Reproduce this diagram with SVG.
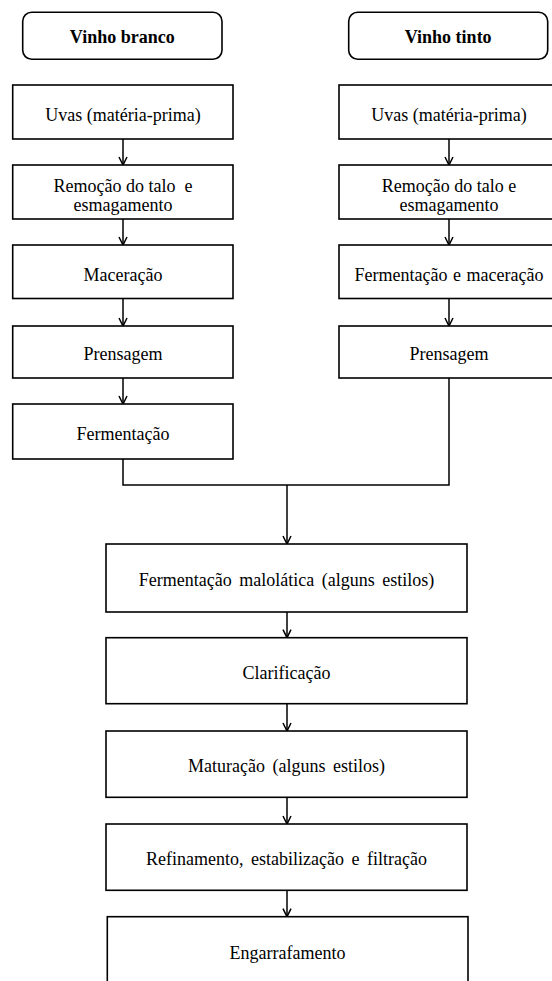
<svg xmlns="http://www.w3.org/2000/svg" width="552" height="981" viewBox="0 0 552 981">
<style>
.box{fill:#fff;stroke:#000;stroke-width:1.6}
.hdr{fill:#fff;stroke:#000;stroke-width:1.6}
.t{font-family:'Liberation Serif',Tinos,'Times New Roman','Noto Serif','DejaVu Serif',serif;font-size:18px;fill:#000;text-anchor:middle}
.b{font-weight:bold}
.w{word-spacing:3px}
.ln{fill:none;stroke:#000;stroke-width:1.5}
</style>
<rect width="552" height="981" fill="#fff"/>
<g id="connectors">
<line class="ln" x1="123" y1="139" x2="123" y2="165"/>
<line class="ln" x1="123" y1="219" x2="123" y2="245"/>
<line class="ln" x1="123" y1="298.5" x2="123" y2="326"/>
<line class="ln" x1="123" y1="378" x2="123" y2="404"/>
<line class="ln" x1="449" y1="139" x2="449" y2="165"/>
<line class="ln" x1="449" y1="219" x2="449" y2="245"/>
<line class="ln" x1="449" y1="298.5" x2="449" y2="326"/>
<polyline class="ln" points="123,459 123,485 449,485 449,378"/>
<line class="ln" x1="287" y1="485" x2="287" y2="544"/>
<line class="ln" x1="287" y1="612" x2="287" y2="637.7"/>
<line class="ln" x1="287" y1="703.7" x2="287" y2="731"/>
<line class="ln" x1="287" y1="797.3" x2="287" y2="824"/>
<line class="ln" x1="287" y1="890.3" x2="287" y2="916.7"/>
<g fill="none" stroke="#000" stroke-width="1.5">
<polyline points="119,157 123,165 127,157"/>
<polyline points="119,237 123,245 127,237"/>
<polyline points="119,318 123,326 127,318"/>
<polyline points="119,396 123,404 127,396"/>
<polyline points="445,157 449,165 453,157"/>
<polyline points="445,237 449,245 453,237"/>
<polyline points="445,318 449,326 453,318"/>
<polyline points="283,536 287,544 291,536"/>
<polyline points="283,629.7 287,637.7 291,629.7"/>
<polyline points="283,723 287,731 291,723"/>
<polyline points="283,816 287,824 291,816"/>
<polyline points="283,908.7 287,916.7 291,908.7"/>
</g>
</g>
<g id="hdr-branco"><rect class="hdr" x="22.7" y="12.3" width="199.3" height="47" rx="9"/><text class="t b" x="122.3" y="43">Vinho branco</text></g>
<g id="hdr-tinto"><rect class="hdr" x="348.7" y="12.3" width="199" height="47" rx="9"/><text class="t b" x="448.2" y="43">Vinho tinto</text></g>
<g id="b-uvas"><rect class="box" x="12.7" y="85" width="220.3" height="54"/><text class="t" x="123" y="120.5">Uvas (matéria-prima)</text></g>
<g id="b-remocao"><rect class="box" x="12.7" y="165" width="220.3" height="54"/><text class="t" x="123" y="191.5" xml:space="preserve">Remoção do talo  e</text><text class="t" x="123" y="210.5">esmagamento</text></g>
<g id="b-maceracao"><rect class="box" x="12.7" y="245" width="220.3" height="53.5"/><text class="t" x="123" y="280.5">Maceração</text></g>
<g id="b-prensagem"><rect class="box" x="12.7" y="326" width="220.3" height="52"/><text class="t" x="123" y="360">Prensagem</text></g>
<g id="b-fermentacao"><rect class="box" x="12.7" y="404" width="220.3" height="55"/><text class="t" x="123" y="439.5">Fermentação</text></g>
<g id="t-uvas"><rect class="box" x="339" y="85" width="220" height="54"/><text class="t" x="449" y="120.5">Uvas (matéria-prima)</text></g>
<g id="t-remocao"><rect class="box" x="339" y="165" width="220" height="54"/><text class="t" x="449" y="191.5">Remoção do talo e</text><text class="t" x="449" y="210.5">esmagamento</text></g>
<g id="t-fermmac"><rect class="box" x="339" y="245" width="220" height="53.5"/><text class="t" x="449" y="280.5" style="word-spacing:1px">Fermentação e maceração</text></g>
<g id="t-prensagem"><rect class="box" x="339" y="326" width="220" height="52"/><text class="t" x="449" y="360">Prensagem</text></g>
<g id="m-malolatica"><rect class="box" x="106" y="544" width="361" height="68"/><text class="t w" x="286.5" y="586">Fermentação malolática (alguns estilos)</text></g>
<g id="m-clarificacao"><rect class="box" x="106" y="637.7" width="361" height="66"/><text class="t" x="286.5" y="678.5">Clarificação</text></g>
<g id="m-maturacao"><rect class="box" x="106" y="731" width="361" height="66.3"/><text class="t w" x="286.5" y="772">Maturação (alguns estilos)</text></g>
<g id="m-refinamento"><rect class="box" x="106" y="824" width="361" height="66.3"/><text class="t w" x="286.5" y="865">Refinamento, estabilização e filtração</text></g>
<g id="m-engarrafamento"><rect class="box" x="107.3" y="916.7" width="360.7" height="90"/><text class="t" x="287.5" y="958.5">Engarrafamento</text></g>
</svg>
